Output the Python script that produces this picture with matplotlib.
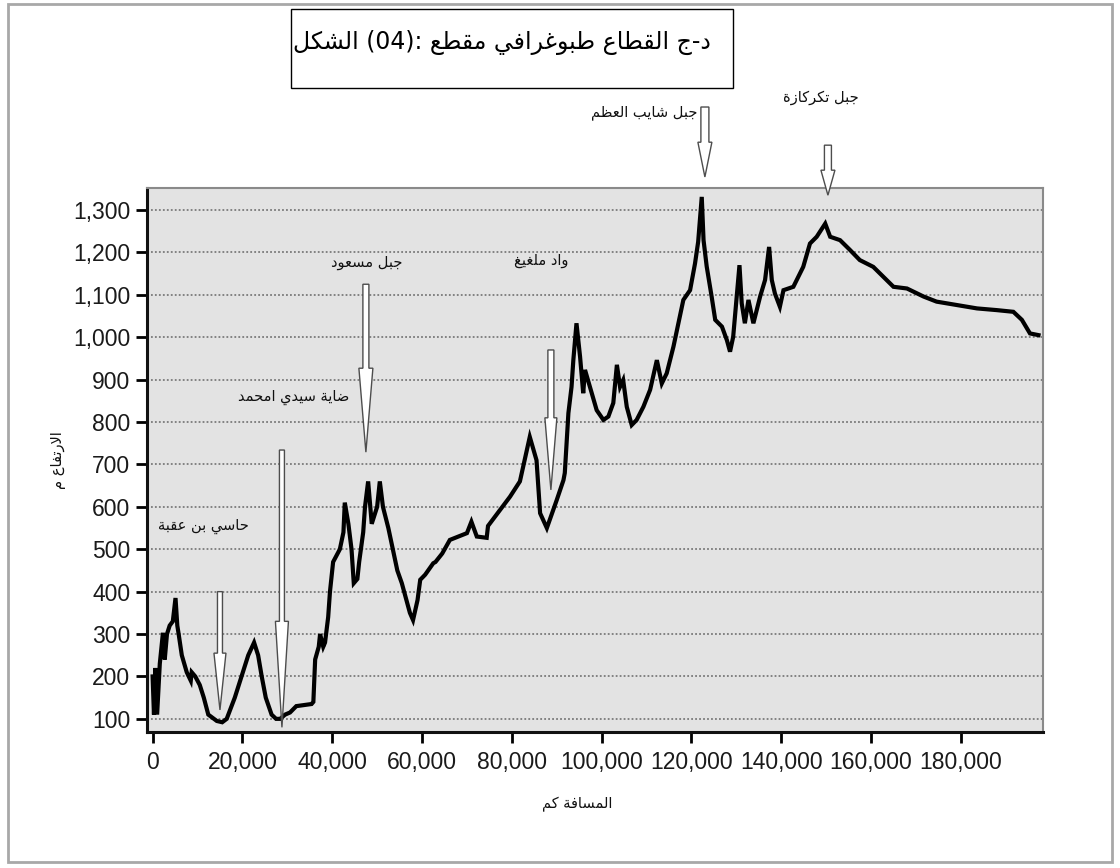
import re
import matplotlib
matplotlib.use("Agg")
import matplotlib.pyplot as plt
from matplotlib import font_manager
from matplotlib.patches import Polygon, Rectangle
from matplotlib.ticker import FuncFormatter

# ---- profile data -------------------------------------------------------
DIST = [0, 300, 600, 1000, 1600, 2300, 2700, 3200, 3800, 4500, 5100, 5500, 5800,
        6500, 7600, 8500, 8700, 9500, 10500, 11400, 12400, 14300, 15500, 16500,
        18300, 19800, 21300, 22600, 23500, 24300, 25200, 26500, 27500, 28400,
        29500, 30600, 32000, 35400, 35800, 36200, 37000, 37300, 38000, 38400,
        39100, 39500, 40200, 41700, 42500, 42800, 43600, 44300, 44800, 45600,
        46000, 46900, 47300, 48000, 48800, 50000, 50600, 51300, 52500, 53500,
        54500, 55500, 57300, 58000, 59000, 59600, 60700, 62500, 63000, 64500,
        66200, 70000, 71000, 72200, 74400, 74700, 77400, 79600, 81800, 84000,
        85500, 86300, 87800, 90000, 91500, 91800, 92600, 93300, 93700, 94400,
        95200, 95900, 96300, 97400, 98900, 100400, 101500, 102600, 103400,
        104100, 104800, 105600, 106700, 107800, 109300, 110800, 112300, 113400,
        114500, 116000, 118200, 119700, 120800, 121500, 122300, 122700, 123400,
        124500, 125300, 126800, 127900, 128600, 129300, 130100, 130700, 131200,
        131900, 132700, 133800, 135300, 136400, 137300, 137900, 138600, 139700,
        140500, 142700, 144900, 146400, 147900, 149800, 150900, 153100, 155300,
        157500, 160500, 162700, 165000, 168000, 171700, 174600, 179100, 183600,
        188000, 191700, 193600, 195400, 197300]
ELEV = [200, 110, 220, 110, 230, 303, 240, 300, 320, 330, 385, 320, 300,
        250, 210, 190, 210, 200, 180, 150, 110, 95, 92, 100,
        150, 200, 250, 280, 250, 200, 150, 110, 100, 100,
        110, 115, 130, 135, 140, 240, 270, 300, 270, 280,
        340, 400, 470, 500, 540, 610, 560, 500, 420, 430,
        470, 540, 600, 660, 560, 600, 660, 600, 550, 500,
        450, 420, 350, 333, 380, 428, 440, 467, 470, 490,
        522, 538, 565, 530, 527, 555, 593, 624, 660, 765,
        710, 585, 550, 616, 663, 680, 821, 883, 946, 1033,
        954, 868, 923, 883, 828, 805, 813, 845, 935,
        883, 899, 836, 793, 805, 836, 876, 946, 891,
        915, 978, 1088, 1111, 1174, 1225, 1331, 1229, 1167,
        1096, 1041, 1025, 993, 966, 1001, 1096, 1170, 1080,
        1033, 1088, 1033, 1096, 1135, 1213, 1135, 1103, 1072,
        1111, 1119, 1166, 1221, 1237, 1268, 1237, 1229, 1206,
        1182, 1166, 1143, 1119, 1115, 1096, 1084, 1076, 1068,
        1064, 1060, 1041, 1009, 1005]

# landmarks: label, label position, arrow x, arrow top / neck / tip elevations
LANDMARKS = ["حاسي بن عقبة", "ضاية سيدي امحمد", "جبل مسعود",
             "واد ملغيغ", "جبل شايب العظم", "جبل تكركازة"]
LABEL_X = [11400, 31300, 47700, 86500, 109400, 148900]
LABEL_Y = [553, 859, 1177, 1182, 1529, 1566]
ARROW_X = [15000, 28800, 47500, 88700, 123000, 150400]
ARROW_TOP = [400, 734, 1125, 970, 1543, 1453]
ARROW_NECK = [255, 330, 927, 810, 1460, 1394]
ARROW_TIP = [121, 80, 729, 640, 1378, 1335]

TITLE = "الشكل (04): مقطع طبوغرافي القطاع ج-د"
XLABEL = "المسافة كم"
YLABEL = "الارتفاع م"

Y_TICKS = list(range(100, 1301, 100))
X_TICKS = list(range(0, 180001, 20000))

# ---- minimal Arabic shaping (presentation forms) -------------------------
FORMS = {
    "ا": (0xFE8D, 2), "ب": (0xFE8F, 4), "ة": (0xFE93, 2), "ت": (0xFE95, 4),
    "ج": (0xFE9D, 4), "ح": (0xFEA1, 4), "د": (0xFEA9, 2), "ر": (0xFEAD, 2),
    "ز": (0xFEAF, 2), "س": (0xFEB1, 4), "ش": (0xFEB5, 4), "ض": (0xFEBD, 4),
    "ط": (0xFEC1, 4), "ظ": (0xFEC5, 4), "ع": (0xFEC9, 4), "غ": (0xFECD, 4),
    "ف": (0xFED1, 4), "ق": (0xFED5, 4), "ك": (0xFED9, 4), "ل": (0xFEDD, 4),
    "م": (0xFEE1, 4), "ن": (0xFEE5, 4), "ه": (0xFEE9, 4), "و": (0xFEED, 2),
    "ي": (0xFEF1, 4),
}


def shape_word(word):
    out, prev_joins, i, n = [], False, 0, len(word)
    while i < n:
        c = word[i]
        if c not in FORMS:
            out.append(c)
            prev_joins = False
            i += 1
            continue
        if c == "ل" and i + 1 < n and word[i + 1] == "ا":
            out.append(chr(0xFEFC if prev_joins else 0xFEFB))
            prev_joins = False
            i += 2
            continue
        base, count = FORMS[c]
        nxt = word[i + 1] if i + 1 < n else None
        joins_next = count == 4 and nxt in FORMS
        if prev_joins and joins_next:
            form = 3
        elif prev_joins:
            form = 1
        elif joins_next:
            form = 2
        else:
            form = 0
        out.append(chr(base + form))
        prev_joins = count == 4
        i += 1
    return "".join(reversed(out))


def ar(text, rtl=True):
    tokens = re.split(r"(\s+|-)", text)
    tokens = [shape_word(t) if any(ch in FORMS for ch in t) else t for t in tokens]
    if rtl:
        tokens = tokens[::-1]
    return "".join(tokens)


# narrow sans for the tick numbers when available
_names = {f.name for f in font_manager.fontManager.ttflist}
if "Liberation Sans Narrow" in _names:
    TICK_FAMILY, TICK_SIZE = "Liberation Sans Narrow", 19
else:
    TICK_FAMILY, TICK_SIZE = "Liberation Sans", 16.5

# ---- figure ---------------------------------------------------------------
W, H = 1120, 868
fig = plt.figure(figsize=(W / 100, H / 100), dpi=100)
fig.patch.set_facecolor("white")

AX_L, AX_R, AX_T, AX_B = 147, 1043, 188, 732
ax = fig.add_axes([AX_L / W, 1 - AX_B / H, (AX_R - AX_L) / W, (AX_B - AX_T) / H])
ax.set_facecolor("#e3e3e3")

XMIN, XMAX = -1250, 198300
YMIN, YMAX = 69, 1352
ax.set_xlim(XMIN, XMAX)
ax.set_ylim(YMIN, YMAX)

ax.plot(DIST, ELEV, color="black", lw=3.0, solid_joinstyle="miter", zorder=3)

ax.set_yticks(Y_TICKS)
ax.set_xticks(X_TICKS)
ax.yaxis.grid(True, linestyle=(0, (1, 1.2)), color="#7a7a7a", lw=1.3, zorder=1)
ax.set_axisbelow(True)

fmt = FuncFormatter(lambda v, p: f"{int(v):,}")
ax.xaxis.set_major_formatter(fmt)
ax.yaxis.set_major_formatter(fmt)

ax.tick_params(axis="both", direction="out", length=8, width=2, color="black",
               labelsize=TICK_SIZE, labelcolor="#1a1a1a")
ax.tick_params(axis="y", pad=4)
ax.tick_params(axis="x", pad=6)
for lab in ax.get_xticklabels() + ax.get_yticklabels():
    lab.set_family(TICK_FAMILY)

for side in ("left", "bottom"):
    ax.spines[side].set_color("#111111")
    ax.spines[side].set_linewidth(2.2)
for side in ("top", "right"):
    ax.spines[side].set_color("#8a8a8a")
    ax.spines[side].set_linewidth(1.5)

# hollow arrows pointing at landmarks
px_x = (XMAX - XMIN) / (AX_R - AX_L)
SHAFT_HALF = [2.5, 2.5, 3.0, 3.0, 4.0, 3.5]
HEAD_HALF = [6.0, 6.5, 7.0, 6.0, 7.0, 7.0]
for x, top, neck, tip, sh, hh in zip(ARROW_X, ARROW_TOP, ARROW_NECK, ARROW_TIP,
                                    SHAFT_HALF, HEAD_HALF):
    s, h = sh * px_x, hh * px_x
    verts = [(x - s, top), (x + s, top), (x + s, neck), (x + h, neck),
             (x, tip), (x - h, neck), (x - s, neck)]
    ax.add_patch(Polygon(verts, closed=True, facecolor="white", edgecolor="#4d4d4d",
                         lw=1.0, clip_on=False, zorder=4))

for name, lx, ly in zip(LANDMARKS, LABEL_X, LABEL_Y):
    ax.text(lx, ly, ar(name), ha="center", va="center", fontsize=10.5,
            family="DejaVu Sans", color="#111111", clip_on=False, zorder=5)

# axis titles
fig.text(577 / W, 1 - 804 / H, ar(XLABEL), ha="center", va="center",
         fontsize=10.5, family="DejaVu Sans", color="#111111")
fig.text(59 / W, 1 - 460 / H, ar(YLABEL), ha="center", va="center", rotation=90,
         fontsize=10.5, family="DejaVu Sans", color="#111111")

# caption box
fig.patches.append(Rectangle((291 / W, 1 - 88 / H), (733 - 291) / W, (88 - 9) / H,
                             transform=fig.transFigure, facecolor="white",
                             edgecolor="black", lw=1.0))
fig.text(502 / W, 1 - 42 / H, ar(TITLE, rtl=False), ha="center", va="center",
         fontsize=17, family="DejaVu Sans", color="black")

# page frame
fig.patches.append(Rectangle((8 / W, 1 - 862 / H), (1112 - 8) / W, (862 - 4) / H,
                             transform=fig.transFigure, facecolor="none",
                             edgecolor="#a8a8a8", lw=2.0))

fig.savefig("out.png", dpi=100)
